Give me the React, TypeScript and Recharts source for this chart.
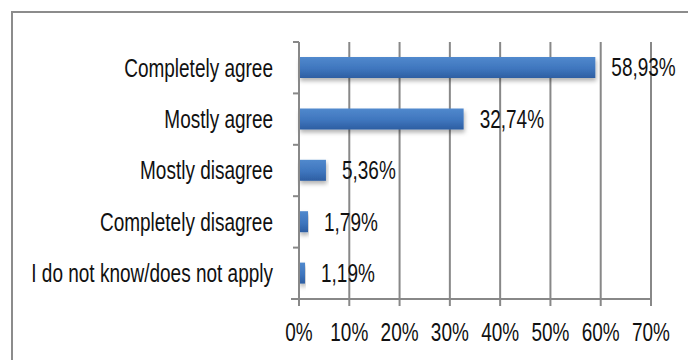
import { BarChart, Bar, XAxis, YAxis, CartesianGrid, LabelList } from "recharts";

const categories = [
  "Completely agree",
  "Mostly agree",
  "Mostly disagree",
  "Completely disagree",
  "I do not know/does not apply",
];
const shares = [58.93, 32.74, 5.36, 1.79, 1.19];
const xTicks = [0, 10, 20, 30, 40, 50, 60, 70];

// no condensed face is installed, so squeeze Liberation Sans horizontally
const FONT = "'Liberation Sans', Arial, sans-serif";
const FONT_SIZE = 25;
const SQUEEZE = 0.76;
const GRID = "#888888";
const INK = "#111111";
const Y_TICK_SIZE = 6;
const Y_TICK_MARGIN = 20;
const LABEL_GAP = 16;

const data = categories.map((name, i) => ({ name, value: shares[i] }));

const pct = (v: number) => v.toFixed(2).replace(".", ",") + "%";

const Narrow = ({ x, y, anchor, dy, children }: any) => (
  <text
    transform={`translate(${x},${y}) scale(${SQUEEZE},1)`}
    dy={dy}
    textAnchor={anchor}
    fontSize={FONT_SIZE}
    fontFamily={FONT}
    fill={INK}
  >
    {children}
  </text>
);

// category labels + tick marks on the band boundaries (Excel style)
const CategoryTick = ({ x, y, payload, index, visibleTicksCount }: any) => {
  const axisX = x + Y_TICK_MARGIN + Y_TICK_SIZE;
  const half = payload.offset || 0;
  return (
    <g>
      <line x1={axisX - Y_TICK_SIZE} x2={axisX} y1={y - half} y2={y - half} stroke={GRID} strokeWidth={2} />
      {index === visibleTicksCount - 1 && (
        <line x1={axisX - Y_TICK_SIZE - 2} x2={axisX} y1={y + half} y2={y + half} stroke={GRID} strokeWidth={2} />
      )}
      <Narrow x={x} y={y} dy="0.355em" anchor="end">
        {payload.value}
      </Narrow>
    </g>
  );
};

const PercentTick = ({ x, y, payload }: any) => (
  <Narrow x={x} y={y} dy="0.71em" anchor="middle">
    {`${payload.value}%`}
  </Narrow>
);

const ValueLabel = (props: any) => {
  const box = props.viewBox || props;
  return (
    <Narrow x={box.x + box.width + LABEL_GAP} y={box.y + box.height / 2} dy="0.355em" anchor="start">
      {pct(Number(props.value))}
    </Narrow>
  );
};

export default function App() {
  return (
    <div style={{ position: "absolute", left: 0, top: 0, width: 688, height: 360, overflow: "hidden", background: "#fff" }}>
      <div
        style={{
          position: "absolute",
          left: 11,
          top: 11,
          width: 720,
          height: 420,
          borderLeft: "2px solid #8c8c8c",
          borderTop: "2px solid #8c8c8c",
        }}
      />
      <div style={{ position: "absolute", left: 0, top: 0 }}>
        <BarChart
          width={688}
          height={360}
          data={data}
          layout="vertical"
          margin={{ top: 42, right: 37, bottom: 0, left: 0 }}
        >
          <defs>
            <linearGradient id="barFill" x1="0" y1="0" x2="0" y2="1">
              <stop offset="0%" stopColor="#5189cd" />
              <stop offset="55%" stopColor="#3f76be" />
              <stop offset="100%" stopColor="#2d5ea2" />
            </linearGradient>
            <filter id="barShadow" x="-5%" y="-20%" width="115%" height="180%">
              <feDropShadow dx="1" dy="3" stdDeviation="2" floodColor="#000" floodOpacity="0.3" />
            </filter>
          </defs>
          <CartesianGrid horizontal={false} stroke={GRID} strokeWidth={2} />
          <XAxis
            type="number"
            domain={[0, 70]}
            ticks={xTicks}
            interval={0}
            axisLine={{ stroke: GRID, strokeWidth: 2 }}
            tickLine={{ stroke: GRID, strokeWidth: 2 }}
            tickSize={7}
            tickMargin={17}
            height={61}
            tick={<PercentTick />}
          />
          <YAxis
            type="category"
            dataKey="name"
            width={299}
            axisLine={{ stroke: GRID, strokeWidth: 2 }}
            tickLine={false}
            tickSize={Y_TICK_SIZE}
            tickMargin={Y_TICK_MARGIN}
            tick={<CategoryTick />}
            interval={0}
          />
          <Bar
            dataKey="value"
            fill="url(#barFill)"
            barSize={21}
            filter="url(#barShadow)"
            isAnimationActive={false}
          >
            <LabelList dataKey="value" content={<ValueLabel />} />
          </Bar>
        </BarChart>
      </div>
    </div>
  );
}
